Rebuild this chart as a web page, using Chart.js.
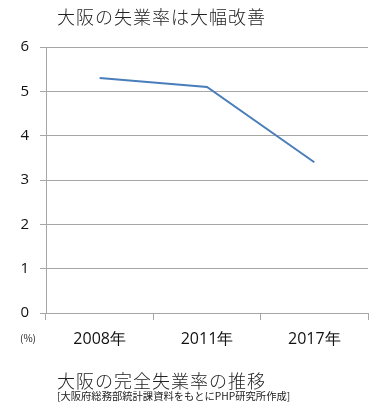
<!DOCTYPE html>
<html><head><meta charset="utf-8">
<script src="https://cdn.jsdelivr.net/npm/chart.js@4/dist/chart.umd.min.js"></script>
<style>
html,body{margin:0;padding:0;background:#fff;}
#wrap{position:relative;width:384px;height:413px;overflow:hidden;}
canvas{position:absolute;left:0;top:0;}
.t{position:absolute;white-space:nowrap;font-family:"Noto Sans CJK JP",sans-serif;color:#222;}
</style></head>
<body><div id="wrap">
<canvas id="c" width="384" height="413"></canvas>
<div class="t" id="title" style="left:57px;top:3px;font-size:18px;font-weight:300;letter-spacing:1px;">大阪の失業率は大幅改善</div>
<div class="t" id="unit" style="left:20px;top:330px;font-size:10px;">(%)</div>
<div class="t" id="sub1" style="left:57px;top:367px;font-size:18px;font-weight:300;letter-spacing:1px;">大阪の完全失業率の推移</div>
<div class="t" id="sub2" style="left:57px;top:388px;font-size:10.3px;">[大阪府総務部統計課資料をもとにPHP研究所作成]</div>
</div>
<script>
const categories = ["2008年", "2011年", "2017年"];
const unemploymentRate = [5.3, 5.1, 3.4];
const yTicks = [0, 1, 2, 3, 4, 5, 6];

new Chart(document.getElementById('c'), {
  type: 'line',
  data: {
    labels: categories,
    datasets: [{
      data: unemploymentRate,
      borderColor: '#4a7ebb',
      borderWidth: 2,
      pointRadius: 0,
      tension: 0,
      fill: false
    }]
  },
  options: {
    responsive: false,
    animation: false,
    devicePixelRatio: 1,
    layout: { padding: { left: 0, right: 16, top: 47, bottom: 60 } },
    plugins: { legend: { display: false }, tooltip: { enabled: false }, title: { display: false } },
    scales: {
      x: {
        offset: true,
        grid: { offset: true, drawOnChartArea: false, drawTicks: true, tickLength: 7, color: '#a6a6a6', lineWidth: 1 },
        border: { display: true, color: '#a6a6a6' },
        ticks: { color: '#111', font: { family: 'Open Sans', size: 16 }, padding: 10, maxRotation: 0 },
        afterFit: s => { s.height = 40; }
      },
      y: {
        min: 0, max: 6,
        afterBuildTicks: s => { s.ticks = yTicks.map(v => ({ value: v })); },
        grid: { drawTicks: true, tickLength: 6, color: '#a6a6a6', lineWidth: 1 },
        border: { display: true, color: '#a6a6a6' },
        ticks: { color: '#111', font: { family: 'Open Sans', size: 15 }, padding: 11 },
        afterFit: s => { s.width = 46; }
      }
    }
  }
});
</script>
</body></html>
